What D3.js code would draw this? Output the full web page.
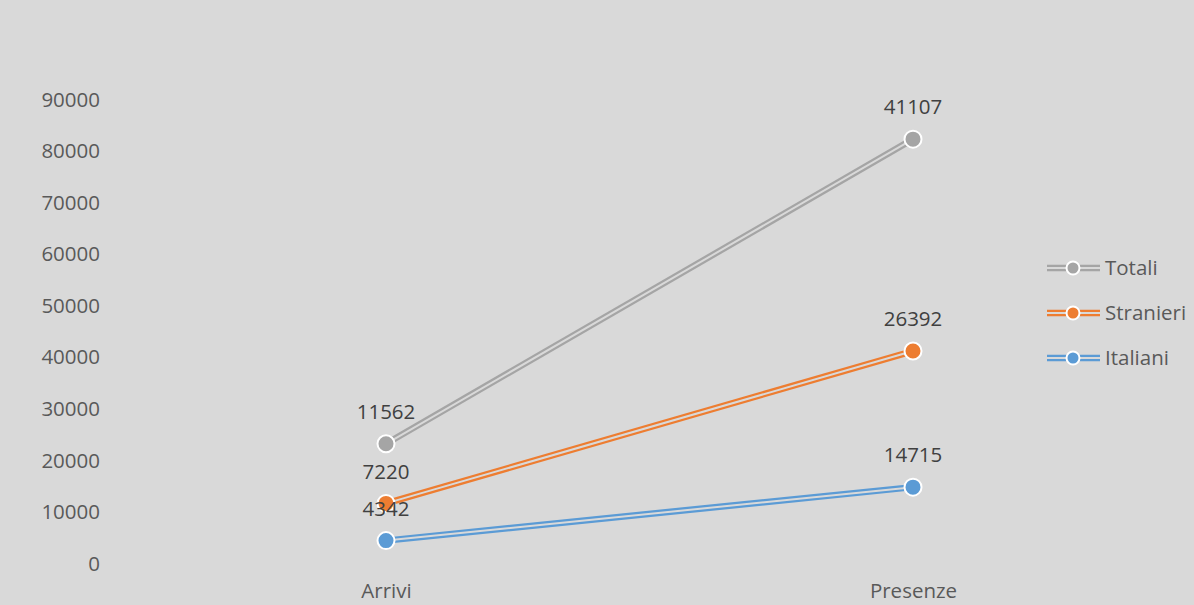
<!DOCTYPE html>
<html><head><meta charset="utf-8">
<script src="https://cdn.jsdelivr.net/npm/d3@7"></script>
<style>
html,body{margin:0;padding:0;background:#d9d9d9;}
svg{display:block;}
text{font-family:"Open Sans","Noto Sans",sans-serif;}
</style></head>
<body>
<svg id="chart" width="1194" height="605"></svg>
<script>
const categories = ["Arrivi", "Presenze"];
const italiani = [4342, 14715];
const stranieri = [7220, 26392];
const totali = [11562, 41107];
const seriesNames = ["Italiani", "Stranieri", "Totali"];
const seriesColors = ["#5b9bd5", "#ed7d31", "#a5a5a5"];
const yTicks = [0, 10000, 20000, 30000, 40000, 50000, 60000, 70000, 80000, 90000];

const raw = [italiani, stranieri, totali];
// stacked line
const stacked = [];
raw.forEach((vals, i) => {
  stacked.push(vals.map((v, j) => v + (i > 0 ? stacked[i-1][j] : 0)));
});

const svg = d3.select("#chart");
const bg = "#d9d9d9";
const FS = "20.5px";
svg.append("rect").attr("width",1194).attr("height",605).attr("fill",bg);

const x = d3.scalePoint().domain(categories).range([386, 913]);
const y = d3.scaleLinear().domain([0, 90000]).range([563, 99]);

// y axis labels
const yAxis = d3.axisLeft(y).tickValues(yTicks).tickSize(0).tickPadding(0).tickFormat(d3.format("d"));
const gy = svg.append("g").attr("transform","translate(100,0)").call(yAxis);
gy.select(".domain").remove();
gy.selectAll("text").attr("fill","#595959").style("font-size",FS).attr("dy","0.35em")
  .style("font-family",'"Open Sans","Noto Sans",sans-serif');

// x axis labels
const xAxis = d3.axisBottom(x).tickSize(0).tickPadding(0);
const gx = svg.append("g").attr("transform","translate(0,583)").call(xAxis);
gx.select(".domain").remove();
gx.selectAll("text").attr("fill","#595959").style("font-size",FS).attr("dy","0.71em")
  .style("font-family",'"Open Sans","Noto Sans",sans-serif');

const line = d3.line().x((d,j)=>x(categories[j])).y(d=>y(d));

const order = [0,1,2];
order.forEach(i => {
  const g = svg.append("g");
  g.append("path").datum(stacked[i]).attr("d", line).attr("fill","none")
    .attr("stroke", seriesColors[i]).attr("stroke-width", 6.5);
  g.append("path").datum(stacked[i]).attr("d", line).attr("fill","none")
    .attr("stroke", bg).attr("stroke-width", 2);
});
order.forEach(i => {
  svg.append("g").selectAll("circle").data(stacked[i]).join("circle")
    .attr("cx",(d,j)=>x(categories[j])).attr("cy",d=>y(d)).attr("r",8.5)
    .attr("fill",seriesColors[i]).attr("stroke","#ffffff").attr("stroke-width",2);
});
// data labels
order.forEach(i => {
  svg.append("g").selectAll("text").data(stacked[i]).join("text")
    .attr("x",(d,j)=>x(categories[j])).attr("y",d=>y(d)-32)
    .attr("text-anchor","middle").attr("dy","0.35em")
    .attr("fill","#404040").style("font-size",FS)
    .text((d,j)=>raw[i][j]);
});

// legend
const legendItems = [2,1,0];
legendItems.forEach((i,k) => {
  const ly = 268 + k*45;
  const g = svg.append("g");
  g.append("line").attr("x1",1047).attr("x2",1100).attr("y1",ly).attr("y2",ly)
    .attr("stroke",seriesColors[i]).attr("stroke-width",6.5);
  g.append("line").attr("x1",1047).attr("x2",1100).attr("y1",ly).attr("y2",ly)
    .attr("stroke",bg).attr("stroke-width",2);
  g.append("circle").attr("cx",1073).attr("cy",ly).attr("r",6.5)
    .attr("fill",seriesColors[i]).attr("stroke","#fff").attr("stroke-width",2);
  g.append("text").attr("x",1105).attr("y",ly).attr("dy","0.35em")
    .attr("fill","#595959").style("font-size",FS).text(seriesNames[i]);
});
</script>
</body></html>
